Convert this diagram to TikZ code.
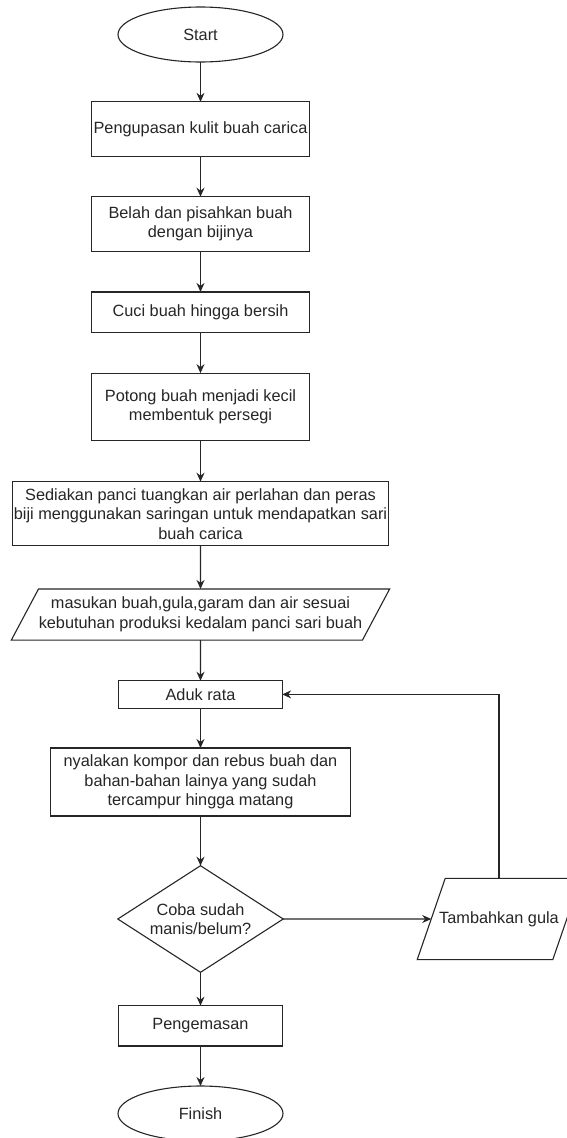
\documentclass[tikz,border=0pt]{standalone}
\usepackage{fontspec}
\setmainfont{Liberation Sans}
\usetikzlibrary{arrows.meta,shapes.geometric}
\definecolor{ink}{HTML}{262626}
\tikzset{
  >=Stealth,
  font=\fontsize{16.3}{19.5}\selectfont,
  box/.style={draw=ink,line width=1.1pt,fill=white,text=ink,align=center,
              inner sep=0pt,outer sep=0pt},
  proc/.style={box,minimum width=217.3pt},
  term/.style={box,ellipse,minimum width=165pt,minimum height=55pt},
  io/.style={box,trapezium,trapezium stretches body=true},
  cond/.style={box,diamond,aspect=1.55},
  flow/.style={-{Stealth[length=9pt,width=8pt]},line width=1.1pt,draw=ink},
}

\begin{document}
\begin{tikzpicture}[x=1pt,y=1pt]
  \useasboundingbox (0,0) rectangle (567,-1138);

  % ---- main column ----
  \node[term] (start) at (200.5,-34.5) {Start};
  \node[proc,minimum height=54.3pt] (peel) at (200.5,-129) {Pengupasan kulit buah carica};
  \node[proc,minimum height=54.6pt] (split) at (200.5,-224) {Belah dan pisahkan buah\\dengan bijinya};
  \node[proc,minimum height=40.7pt] (wash) at (200.5,-312.3) {Cuci buah hingga bersih};
  \node[proc,minimum height=67.7pt] (cut) at (200.5,-407) {Potong buah menjadi kecil\\membentuk persegi};
  \node[box,minimum width=375.7pt,minimum height=64pt] (juice) at (200.5,-513.7)
    {Sediakan panci tuangkan air perlahan dan peras\\biji menggunakan saringan untuk mendapatkan sari\\buah carica};
  \node[io,trapezium left angle=62,trapezium right angle=118,inner ysep=8.2pt,minimum width=378.3pt]
    (input) at (200.5,-614.5) {masukan buah,gula,garam dan air sesuai\\kebutuhan produksi kedalam panci sari buah};
  \node[box,minimum width=163.3pt,minimum height=27.3pt] (mix) at (200.5,-694.4) {Aduk rata};
  \node[box,minimum width=300.3pt,minimum height=68pt] (boil) at (200.5,-782)
    {nyalakan kompor dan rebus buah dan\\bahan-bahan lainya yang sudah\\tercampur hingga matang};
  \node[cond,minimum width=165.4pt,minimum height=106.6pt] (check) at (200.5,-919) {Coba sudah\\manis/belum?};
  \node[box,minimum width=163.4pt,minimum height=40.3pt] (pack) at (200.5,-1025.8) {Pengemasan};
  \node[term] (finish) at (200.5,-1113.5) {Finish};

  % ---- side branch ----
  \node[io,trapezium left angle=71,trapezium right angle=109,inner ysep=33pt,inner xsep=-6pt]
    (sugar) at (499,-919) {Tambahkan gula};

  \draw[flow] (start) -- (peel);
  \draw[flow] (peel) -- (split);
  \draw[flow] (split) -- (wash);
  \draw[flow] (wash) -- (cut);
  \draw[flow] (cut) -- (juice);
  \draw[flow] (juice) -- (input);
  \draw[flow] (input) -- (mix);
  \draw[flow] (mix) -- (boil);
  \draw[flow] (boil) -- (check);
  \draw[flow] (check) -- (sugar);
  \draw[flow] (sugar.north) |- (mix.east);
  \draw[flow] (check) -- (pack);
  \draw[flow] (pack) -- (finish);
\end{tikzpicture}
\end{document}
